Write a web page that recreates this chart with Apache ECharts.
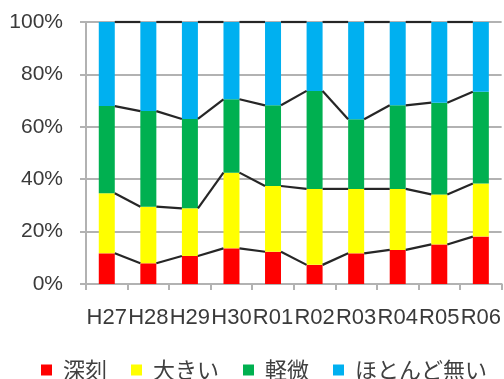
<!DOCTYPE html>
<html>
<head>
<meta charset="utf-8">
<script src="https://cdn.jsdelivr.net/npm/echarts@6/dist/echarts.min.js"></script>
<style>
  html, body { margin: 0; padding: 0; background: #fff; }
  #chart { width: 504px; height: 379px; }
</style>
</head>
<body>
<div id="chart"></div>
<script>
var years = ['H27', 'H28', 'H29', 'H30', 'R01', 'R02', 'R03', 'R04', 'R05', 'R06'];
var shinkoku = [11.7, 7.9, 10.7, 13.6, 12.3, 7.3, 11.7, 13.0, 15.1, 18.1];
var ookii = [22.9, 21.6, 18.2, 28.9, 25.1, 29.0, 24.6, 23.3, 19.1, 20.3];
var keibi = [33.3, 36.5, 34.1, 28.0, 30.8, 37.4, 26.6, 31.9, 35.0, 35.0];
var hotondo = [32.1, 34.0, 37.0, 29.5, 31.8, 26.3, 37.1, 31.8, 30.8, 26.6];
var names = ['深刻', '大きい', '軽微', 'ほとんど無い'];
var colors = ['#ff0000', '#ffff00', '#00b050', '#00b0f0'];

var BAR_RATIO = 0.385;
var gray = '#b2b2b2';

// cumulative tops for the series lines
var levels = [shinkoku, ookii, keibi, hotondo];
var cum = [];
var run = years.map(function () { return 0; });
levels.forEach(function (arr) {
  run = run.map(function (v, i) { return v + arr[i]; });
  cum.push(run.slice());
});
var lineData = [];
cum.forEach(function (c) {
  for (var i = 0; i < c.length - 1; i++) {
    lineData.push([i, c[i], c[i + 1]]);
  }
});

var myChart = echarts.init(document.getElementById('chart'));
var series = levels.map(function (arr, k) {
  return {
    name: names[k],
    type: 'bar',
    stack: 'total',
    barWidth: (BAR_RATIO * 100) + '%',
    itemStyle: { color: colors[k] },
    data: arr
  };
});
series.push({
  type: 'custom',
  z: 5,
  renderItem: function (params, api) {
    var i = api.value(0);
    var p0 = api.coord([i, api.value(1)]);
    var p1 = api.coord([i + 1, api.value(2)]);
    var half = api.size([1, 0])[0] * BAR_RATIO / 2;
    return {
      type: 'line',
      shape: { x1: p0[0] + half, y1: p0[1], x2: p1[0] - half, y2: p1[1] },
      style: { stroke: '#262626', lineWidth: 2.2 }
    };
  },
  data: lineData
});

myChart.setOption({
  animation: false,
  grid: { left: 86, right: 2, top: 22, bottom: 95 },
  legend: {
    data: names,
    left: 41,
    top: 359,
    width: 463,
    padding: 0,
    icon: 'rect',
    itemWidth: 11,
    itemHeight: 11,
    itemGap: 24,
    textStyle: {
      fontSize: 22,
      color: '#404040',
      fontFamily: 'Noto Sans CJK JP',
      padding: [0, 0, 0, 6]
    }
  },
  xAxis: {
    type: 'category',
    data: years,
    axisLine: { lineStyle: { color: gray, width: 2 } },
    axisTick: { show: true, length: 6, lineStyle: { color: gray, width: 2 } },
    axisLabel: {
      interval: 0,
      margin: 23,
      fontSize: 22,
      color: '#3a3a3a',
      fontFamily: 'Liberation Sans'
    }
  },
  yAxis: {
    type: 'value',
    min: 0,
    max: 100,
    interval: 20,
    axisLine: { show: true, lineStyle: { color: gray, width: 2 } },
    axisTick: { show: true, length: 6, lineStyle: { color: gray, width: 2 } },
    splitLine: { lineStyle: { color: gray, width: 2 } },
    axisLabel: {
      formatter: '{value}%',
      margin: 23,
      fontSize: 21,
      color: '#3a3a3a',
      fontFamily: 'Liberation Sans'
    }
  },
  series: series
});
</script>
</body>
</html>
